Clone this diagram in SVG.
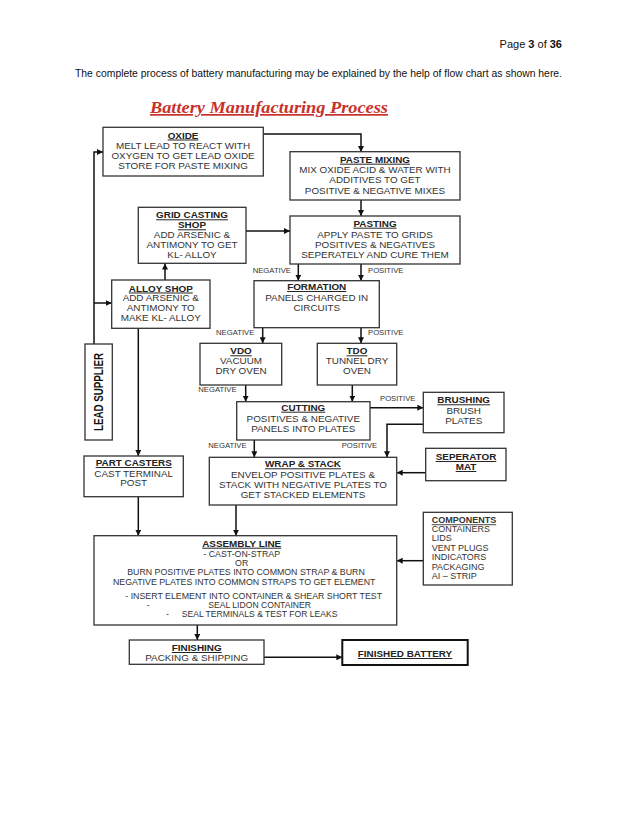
<svg xmlns="http://www.w3.org/2000/svg" width="638" height="826" viewBox="0 0 638 826">
<defs>
<style>
.box{fill:#fff;stroke:#333;stroke-width:1.3}
.t{font-family:"Liberation Sans",Arial,sans-serif;font-size:9.9px;font-weight:bold;fill:#222;text-anchor:middle;text-decoration:underline}
.b{font-family:"Liberation Sans",Arial,sans-serif;font-size:9.9px;fill:#333;text-anchor:middle}
.s{font-family:"Liberation Sans",Arial,sans-serif;font-size:8.8px;fill:#333;text-anchor:middle}
.sl{font-family:"Liberation Sans",Arial,sans-serif;font-size:8.6px;fill:#333;text-anchor:start}
.lbl{font-family:"Liberation Sans",Arial,sans-serif;font-size:7.7px;fill:#333}
.c{font-family:"Liberation Sans",Arial,sans-serif;font-size:9px;fill:#333}
.hd{font-family:"Liberation Sans",Arial,sans-serif;font-size:11px;fill:#111}
.conn path{fill:none;stroke:#111;stroke-width:1.5;marker-end:url(#ah)}
</style>
<marker id="ah" markerWidth="6" markerHeight="6" refX="6" refY="3" orient="auto" markerUnits="userSpaceOnUse"><path d="M0,0 L6,3 L0,6 z" fill="#111"/></marker>
</defs>
<rect width="638" height="826" fill="#fff"/>

<g id="header">
<text class="hd" x="562" y="48" text-anchor="end">Page <tspan font-weight="bold">3</tspan> of <tspan font-weight="bold">36</tspan></text>
<text class="hd" x="75" y="77" textLength="487" lengthAdjust="spacingAndGlyphs">The complete process of battery manufacturing may be explained by the help of flow chart as shown here.</text>
</g>

<g id="title">
<text x="150" y="113" font-family="'Liberation Serif',serif" font-size="17" font-weight="bold" font-style="italic" fill="#c8312b" text-decoration="underline" textLength="238" lengthAdjust="spacingAndGlyphs">Battery Manufacturing Process</text>
</g>

<g class="conn" id="connectors">
<path d="M263,134 H361 V152"/>
<path d="M361,200 V216"/>
<path d="M246,231 H290"/>
<path d="M165,280 V263.5"/>
<path d="M94,344 V152 H103"/>
<path d="M94,303 H111.7"/>
<path d="M138.3,328.3 V456"/>
<path d="M298.3,264 V280.7"/>
<path d="M361,264 V280.7"/>
<path d="M262.7,327.7 V343.3"/>
<path d="M361,327.7 V343.3"/>
<path d="M245.7,385 V401.7"/>
<path d="M352.3,385 V401.7"/>
<path d="M370,407.7 H423.3"/>
<path d="M254.3,440 V457.3"/>
<path d="M423.3,424.3 H387 V457.3"/>
<path d="M425.7,472.7 H396.7"/>
<path d="M138.3,496.7 V535.7"/>
<path d="M236,505 V535.7"/>
<path d="M423.3,560.7 H396.7"/>
<path d="M197.3,625 V640"/>
<path d="M264,657.3 H342.3"/>
</g>

<g id="labels">
<text class="lbl" x="252.7" y="273.3">NEGATIVE</text>
<text class="lbl" x="368" y="273.3">POSITIVE</text>
<text class="lbl" x="216" y="335">NEGATIVE</text>
<text class="lbl" x="368" y="335">POSITIVE</text>
<text class="lbl" x="198.3" y="392.3">NEGATIVE</text>
<text class="lbl" x="380" y="400.7">POSITIVE</text>
<text class="lbl" x="208.3" y="448.3">NEGATIVE</text>
<text class="lbl" x="341.7" y="448.3">POSITIVE</text>
</g>

<g id="oxide">
<rect class="box" x="103" y="127.3" width="160.3" height="48.7"/>
<text class="t" x="183" y="138.5">OXIDE</text>
<text class="b" x="183" y="148.8">MELT LEAD TO REACT WITH</text>
<text class="b" x="183" y="159.1">OXYGEN TO GET LEAD OXIDE</text>
<text class="b" x="183" y="169.4">STORE FOR PASTE MIXING</text>
</g>

<g id="paste-mixing">
<rect class="box" x="290" y="151.7" width="170" height="48.3"/>
<text class="t" x="375" y="162.7">PASTE MIXING</text>
<text class="b" x="375" y="173">MIX OXIDE ACID &amp; WATER WITH</text>
<text class="b" x="375" y="183.3">ADDITIVES TO GET</text>
<text class="b" x="375" y="194">POSITIVE &amp; NEGATIVE MIXES</text>
</g>

<g id="pasting">
<rect class="box" x="290" y="216" width="170" height="48"/>
<text class="t" x="375" y="226.7">PASTING</text>
<text class="b" x="375" y="237.5">APPLY PASTE TO GRIDS</text>
<text class="b" x="375" y="247.8">POSITIVES &amp; NEGATIVES</text>
<text class="b" x="375" y="258.2">SEPERATELY AND CURE THEM</text>
</g>

<g id="grid-casting">
<rect class="box" x="138.3" y="207.3" width="107.7" height="56"/>
<text class="t" x="192" y="218.3">GRID CASTING</text>
<text class="t" x="192" y="228.3">SHOP</text>
<text class="b" x="192" y="238.3">ADD ARSENIC &amp;</text>
<text class="b" x="192" y="248.3">ANTIMONY TO GET</text>
<text class="b" x="192" y="258.3">KL- ALLOY</text>
</g>

<g id="alloy-shop">
<rect class="box" x="111.7" y="280" width="98.3" height="48.3"/>
<text class="t" x="160.8" y="291.5">ALLOY SHOP</text>
<text class="b" x="160.8" y="301.2">ADD ARSENIC &amp;</text>
<text class="b" x="160.8" y="311">ANTIMONY TO</text>
<text class="b" x="160.8" y="320.7">MAKE KL- ALLOY</text>
</g>

<g id="lead-supplier">
<rect class="box" x="85" y="344" width="27.3" height="96"/>
<text transform="translate(103,392) rotate(-90)" x="0" y="0" text-anchor="middle" font-family="'Liberation Sans',Arial,sans-serif" font-size="12.5" font-weight="bold" fill="#111" textLength="78" lengthAdjust="spacingAndGlyphs">LEAD SUPPLIER</text>
</g>

<g id="formation">
<rect class="box" x="254" y="280.7" width="125.3" height="47"/>
<text class="t" x="316.7" y="290">FORMATION</text>
<text class="b" x="316.7" y="300.7">PANELS CHARGED IN</text>
<text class="b" x="316.7" y="310.7">CIRCUITS</text>
</g>

<g id="vdo">
<rect class="box" x="200" y="343.3" width="81.7" height="41.7"/>
<text class="t" x="241" y="354.3">VDO</text>
<text class="b" x="241" y="364.3">VACUUM</text>
<text class="b" x="241" y="374.3">DRY OVEN</text>
</g>

<g id="tdo">
<rect class="box" x="317.3" y="343.3" width="79.4" height="41.7"/>
<text class="t" x="357" y="354.3">TDO</text>
<text class="b" x="357" y="364.3">TUNNEL DRY</text>
<text class="b" x="357" y="374.3">OVEN</text>
</g>

<g id="cutting">
<rect class="box" x="236.7" y="401.7" width="133.3" height="38.3"/>
<text class="t" x="303.3" y="410.7">CUTTING</text>
<text class="b" x="303.3" y="421.5">POSITIVES &amp; NEGATIVE</text>
<text class="b" x="303.3" y="431.7">PANELS INTO PLATES</text>
</g>

<g id="brushing">
<rect class="box" x="423.3" y="392.3" width="80.7" height="40.4"/>
<text class="t" x="463.7" y="403.3">BRUSHING</text>
<text class="b" x="463.7" y="414">BRUSH</text>
<text class="b" x="463.7" y="423.5">PLATES</text>
</g>

<g id="seperator-mat">
<rect class="box" x="425.7" y="448.3" width="80.3" height="32.4"/>
<text class="t" x="466" y="460">SEPERATOR</text>
<text class="t" x="466" y="470">MAT</text>
</g>

<g id="wrap-stack">
<rect class="box" x="209.3" y="457.3" width="187.4" height="47.7"/>
<text class="t" x="303" y="467.3">WRAP &amp; STACK</text>
<text class="b" x="303" y="477.5">ENVELOP POSITIVE PLATES &amp;</text>
<text class="b" x="303" y="487.7">STACK WITH NEGATIVE PLATES TO</text>
<text class="b" x="303" y="497.7">GET STACKED ELEMENTS</text>
</g>

<g id="part-casters">
<rect class="box" x="84" y="456" width="99.3" height="40.7"/>
<text class="t" x="133.7" y="466" font-size="9.6">PART CASTERS</text>
<text class="b" x="133.7" y="476.6" font-size="9">CAST TERMINAL</text>
<text class="b" x="133.7" y="486.4" font-size="9">POST</text>
</g>

<g id="assembly-line">
<rect class="box" x="94" y="535.7" width="302.7" height="89.3"/>
<text class="t" x="241.7" y="546.7" font-size="9.2">ASSEMBLY LINE</text>
<text class="s" x="241.7" y="556.7">- CAST-ON-STRAP</text>
<text class="s" x="241.7" y="566">OR</text>
<text class="s" x="246" y="574.7">BURN POSITIVE PLATES INTO COMMON STRAP &amp; BURN</text>
<text class="s" x="244.2" y="584.7">NEGATIVE PLATES INTO COMMON STRAPS TO GET ELEMENT</text>
<text class="s" x="253.7" y="598.8">- INSERT ELEMENT INTO CONTAINER &amp; SHEAR SHORT TEST</text>
<text class="sl" x="146.7" y="607.6">-</text>
<text class="sl" x="208.3" y="607.6">SEAL LIDON CONTAINER</text>
<text class="sl" x="166" y="617">-</text>
<text class="sl" x="181.7" y="617">SEAL TERMINALS &amp; TEST FOR LEAKS</text>
</g>

<g id="components">
<rect class="box" x="423.3" y="512.3" width="89" height="72.7"/>
<text class="c" x="431.7" y="523.3" font-weight="bold" fill="#222" text-decoration="underline">COMPONENTS</text>
<text class="c" x="431.7" y="532">CONTAINERS</text>
<text class="c" x="431.7" y="541.4">LIDS</text>
<text class="c" x="431.7" y="550.8">VENT PLUGS</text>
<text class="c" x="431.7" y="560.2">INDICATORS</text>
<text class="c" x="431.7" y="569.6">PACKAGING</text>
<text class="c" x="431.7" y="579">AI – STRIP</text>
</g>

<g id="finishing">
<rect class="box" x="129.3" y="640" width="134.7" height="24.3"/>
<text class="t" x="196.7" y="651">FINISHING</text>
<text class="b" x="196.7" y="660.5">PACKING &amp; SHIPPING</text>
</g>

<g id="finished-battery">
<rect x="342.3" y="640" width="125.4" height="25" fill="#fff" stroke="#111" stroke-width="2"/>
<text class="t" x="405" y="657" font-size="9.2">FINISHED BATTERY</text>
</g>
</svg>
